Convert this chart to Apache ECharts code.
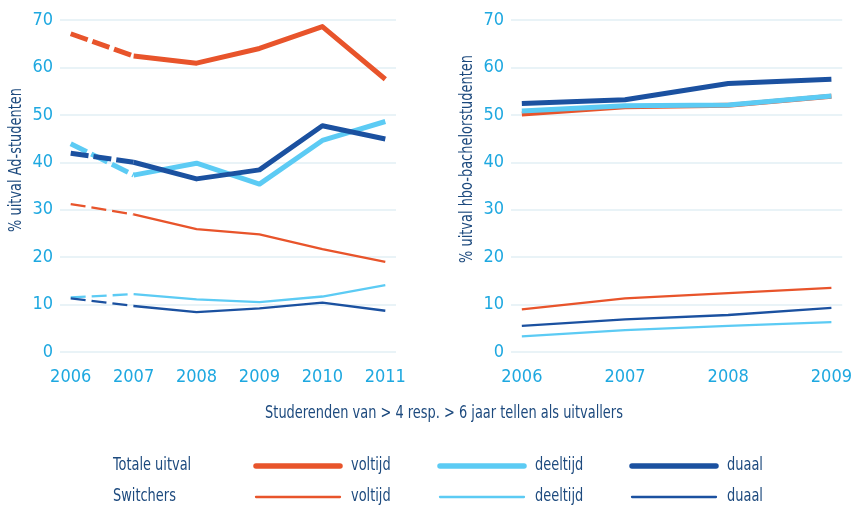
<!DOCTYPE html>
<html>
<head>
<meta charset="utf-8">
<script src="https://cdn.jsdelivr.net/npm/echarts@6/dist/echarts.min.js"></script>
<style>
  html, body { margin: 0; padding: 0; background: #fff; }
  #chart { width: 855px; height: 507px; }
</style>
</head>
<body>
<div id="chart"></div>
<script>
// data
var yearsAd = [2006, 2007, 2008, 2009, 2010, 2011];
var yearsHbo = [2006, 2007, 2008, 2009];

var adTotVoltijd = [67.1, 62.4, 60.9, 64.0, 68.6, 57.5];
var adTotDeeltijd = [43.9, 37.3, 39.8, 35.4, 44.6, 48.6];
var adTotDuaal = [41.9, 40.0, 36.5, 38.4, 47.7, 44.9];
var adSwVoltijd = [31.2, 29.0, 25.9, 24.8, 21.7, 19.0];
var adSwDeeltijd = [11.5, 12.2, 11.1, 10.5, 11.7, 14.1];
var adSwDuaal = [11.3, 9.7, 8.4, 9.2, 10.4, 8.7];

var hboTotVoltijd = [50.2, 51.7, 52.0, 53.9];
var hboTotDeeltijd = [50.8, 51.9, 52.1, 54.0];
var hboTotDuaal = [52.4, 53.2, 56.6, 57.5];
var hboSwVoltijd = [9.0, 11.3, 12.4, 13.5];
var hboSwDeeltijd = [3.3, 4.6, 5.5, 6.3];
var hboSwDuaal = [5.5, 6.9, 7.8, 9.3];

var yTicks = [0, 10, 20, 30, 40, 50, 60, 70];

var ORANGE = '#e8542b';
var LIGHT = '#5ccbf4';
var DARK = '#1b51a0';
var LABEL = '#1ea8e0';
var TEXT = '#1d4a7e';
var FONT = "'Liberation Sans Narrow', 'DejaVu Sans Condensed', sans-serif";
var SQUEEZE = 0.8; // the original font is a condensed one

var chart = echarts.init(document.getElementById('chart'));

function pairs(xs, ys) {
  return xs.map(function (x, i) { return [x, ys[i]]; });
}

function line(idx, xs, ys, color, width, dashed) {
  return {
    type: 'line',
    xAxisIndex: idx,
    yAxisIndex: idx,
    data: pairs(xs, ys),
    symbol: 'none',
    silent: true,
    lineStyle: { color: color, width: width, type: dashed ? (width > 3 ? [18, 5] : [15, 6]) : 'solid', cap: 'butt', join: 'round' },
    z: 3
  };
}

// left chart: 2006-2007 dashed, rest solid
function adLine(ys, color, width) {
  return [
    line(0, yearsAd.slice(0, 2), ys.slice(0, 2), color, width, true),
    line(0, yearsAd.slice(1), ys.slice(1), color, width, false)
  ];
}

var series = [].concat(
  adLine(adSwVoltijd, ORANGE, 2.3),
  adLine(adSwDeeltijd, LIGHT, 2.3),
  adLine(adSwDuaal, DARK, 2.3),
  adLine(adTotVoltijd, ORANGE, 5),
  adLine(adTotDeeltijd, LIGHT, 5),
  adLine(adTotDuaal, DARK, 5),
  [
    line(1, yearsHbo, hboSwVoltijd, ORANGE, 2.3, false),
    line(1, yearsHbo, hboSwDeeltijd, LIGHT, 2.3, false),
    line(1, yearsHbo, hboSwDuaal, DARK, 2.3, false),
    line(1, yearsHbo, hboTotVoltijd, ORANGE, 5, false),
    line(1, yearsHbo, hboTotDeeltijd, LIGHT, 5, false),
    line(1, yearsHbo, hboTotDuaal, DARK, 5, false)
  ]
);

function xAxis(idx, years, pad) {
  return {
    type: 'value',
    gridIndex: idx,
    min: years[0] - pad,
    max: years[years.length - 1] + pad,
    axisLine: { show: false },
    axisTick: { show: false },
    splitLine: { show: false },
    axisLabel: {
      customValues: years,
      color: LABEL,
      fontFamily: FONT,
      fontSize: 18,
      margin: 16,
      formatter: function (v) { return String(v); }
    }
  };
}

function yAxis(idx) {
  return {
    type: 'value',
    gridIndex: idx,
    min: yTicks[0],
    max: yTicks[yTicks.length - 1],
    interval: 10,
    axisLine: { show: false },
    axisTick: { show: false },
    axisLabel: { color: LABEL, fontFamily: FONT, fontSize: 18, margin: 7 },
    splitLine: { lineStyle: { color: '#e2eff5', width: 1.5 } }
  };
}

var legendRows = [
  { label: 'Totale uitval', y: 465, width: 5.5 },
  { label: 'Switchers', y: 496, width: 2.3 }
];
var legendItems = [
  { name: 'voltijd', color: ORANGE, x: 256 },
  { name: 'deeltijd', color: LIGHT, x: 440 },
  { name: 'duaal', color: DARK, x: 632 }
];

function label(text, x, y, opts) {
  opts = opts || {};
  return {
    type: 'text', x: x, y: y,
    rotation: opts.rotation || 0,
    scaleX: SQUEEZE,
    style: {
      text: text, fill: TEXT, font: '18px ' + FONT,
      textAlign: opts.align || 'left', textVerticalAlign: 'middle'
    }
  };
}

var graphic = [
  label('Studerenden van > 4 resp. > 6 jaar tellen als uitvallers', 444, 413, { align: 'center' }),
  label('% uitval Ad-studenten', 16, 160, { align: 'center', rotation: Math.PI / 2 }),
  label('% uitval hbo-bachelorstudenten', 467, 159, { align: 'center', rotation: Math.PI / 2 })
];
legendRows.forEach(function (row) {
  graphic.push(label(row.label, 113, row.y));
  legendItems.forEach(function (it) {
    graphic.push({
      type: 'line',
      shape: { x1: it.x, y1: row.y + 1, x2: it.x + 84, y2: row.y + 1 },
      style: { stroke: it.color, lineWidth: row.width, lineCap: 'round' }
    });
    graphic.push(label(it.name, it.x + 95, row.y));
  });
});

var option = {
  animation: false,
  grid: [
    { left: 60, top: 20, width: 336, height: 332 },
    { left: 511, top: 20, width: 336, height: 332 }
  ],
  xAxis: [xAxis(0, yearsAd, 0.17), xAxis(1, yearsHbo, 0.105)],
  yAxis: [yAxis(0), yAxis(1)],
  graphic: graphic,
  series: series
};

chart.setOption(option);
</script>
</body>
</html>
